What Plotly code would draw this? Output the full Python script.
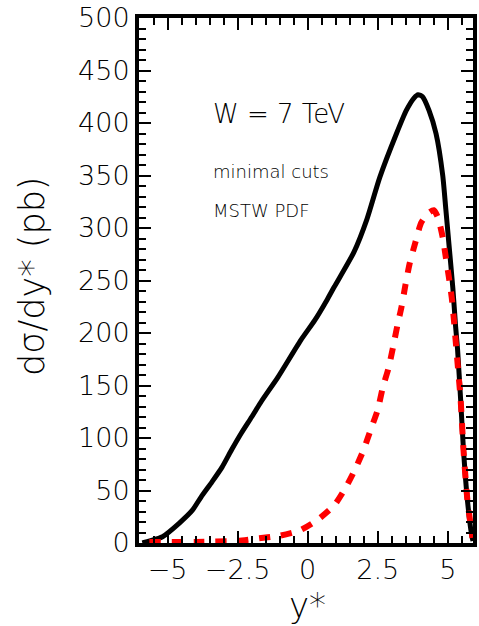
import plotly.graph_objects as go

# Black solid curve (total)
black_x = [-5.9, -5.63, -5.18, -4.58, -4.12, -3.8, -3.42, -3.06, -2.71, -2.36, -2.0, -1.65,
           -1.06, -0.25, 0.25, 0.7, 0.95, 1.65, 2.11, 2.57, 3.17, 3.52, 3.8, 3.94, 4.1, 4.33,
           4.58, 4.82, 4.93, 5.04, 5.18, 5.28, 5.35, 5.46, 5.56, 5.7, 5.85, 5.9]
black_y = [0, 2, 6, 19, 31, 44, 58, 72, 89, 105, 120, 135,
           158, 193, 212, 232, 244, 277, 308, 348, 390, 412, 424, 427, 425, 412,
           390, 350, 318, 285, 243, 206, 184, 136, 89, 41, 8, 2]

# Red dashed curve
red_x = [-5.65, -4.0, -2.5, -1.87, -0.99, -0.28, 0.35, 0.95, 1.34, 1.69, 2.0, 2.25, 2.5,
         2.68, 2.89, 3.05, 3.2, 3.35, 3.49, 3.63, 3.84, 4.05, 4.3, 4.5, 4.65, 4.82, 4.93,
         5.04, 5.14, 5.21, 5.28, 5.35, 5.46, 5.56, 5.7, 5.88]
red_y = [1, 1, 2, 4, 7, 12, 22, 36, 52, 70, 89, 108, 127,
         148, 167, 187, 207, 225, 246, 265, 286, 305, 314, 317, 310, 291, 272,
         253, 234, 215, 193, 171, 136, 89, 41, 5]

x_tickvals = [-5, -2.5, 0, 2.5, 5]
x_ticktext = ["\u22125", "\u22122.5", "0", "2.5", "5"]
y_tickvals = [0, 50, 100, 150, 200, 250, 300, 350, 400, 450, 500]

FONT = "DejaVu Sans Light"

fig = go.Figure()
fig.add_trace(go.Scatter(x=black_x, y=black_y, mode="lines",
                         line=dict(color="black", width=5, shape="spline", smoothing=0.6),
                         showlegend=False))
fig.add_trace(go.Scatter(x=red_x, y=red_y, mode="lines",
                         line=dict(color="#ff0000", width=6, dash="11px,11px",
                                   shape="spline", smoothing=0.6),
                         showlegend=False))

axis_common = dict(showline=True, linecolor="black", linewidth=4, mirror="ticks",
                   ticks="inside", tickcolor="black", tickwidth=2, ticklen=12,
                   showgrid=False, zeroline=False,
                   tickfont=dict(family=FONT, size=27, color="black"))

fig.update_xaxes(range=[-6.02, 5.9], tickvals=x_tickvals, ticktext=x_ticktext,
                 minor=dict(dtick=0.5, tick0=0, ticks="inside", ticklen=7,
                            tickwidth=1.5, tickcolor="black"),
                 **axis_common)
fig.update_yaxes(range=[0, 500], tickvals=y_tickvals,
                 minor=dict(dtick=10, tick0=0, ticks="inside", ticklen=7,
                            tickwidth=1.5, tickcolor="black"),
                 **axis_common)

annotations = [
    dict(text="W = 7 TeV", x=-3.45, y=409, xref="x", yref="y", xanchor="left",
         yanchor="middle", showarrow=False, font=dict(family=FONT, size=26, color="black")),
    dict(text="minimal cuts", x=-3.45, y=354, xref="x", yref="y", xanchor="left",
         yanchor="middle", showarrow=False, font=dict(family=FONT, size=18, color="black")),
    dict(text="MSTW PDF", x=-3.45, y=317, xref="x", yref="y", xanchor="left",
         yanchor="middle", showarrow=False, font=dict(family=FONT, size=18, color="black")),
    dict(text="d\u03c3/dy* (pb)", x=0, y=0.5086, xref="paper", yref="paper",
         xanchor="center", yanchor="middle", xshift=-107, textangle=-90,
         showarrow=False, font=dict(family=FONT, size=35, color="black")),
    dict(text="y*", x=0, y=0, xref="x", yref="paper", xanchor="center",
         yanchor="middle", yshift=-62, showarrow=False,
         font=dict(family=FONT, size=34, color="black")),
]

fig.update_layout(width=479, height=626, margin=dict(l=139, r=2, t=18, b=83),
                  paper_bgcolor="white", plot_bgcolor="white",
                  annotations=annotations, showlegend=False)

fig.write_html("out.html")
